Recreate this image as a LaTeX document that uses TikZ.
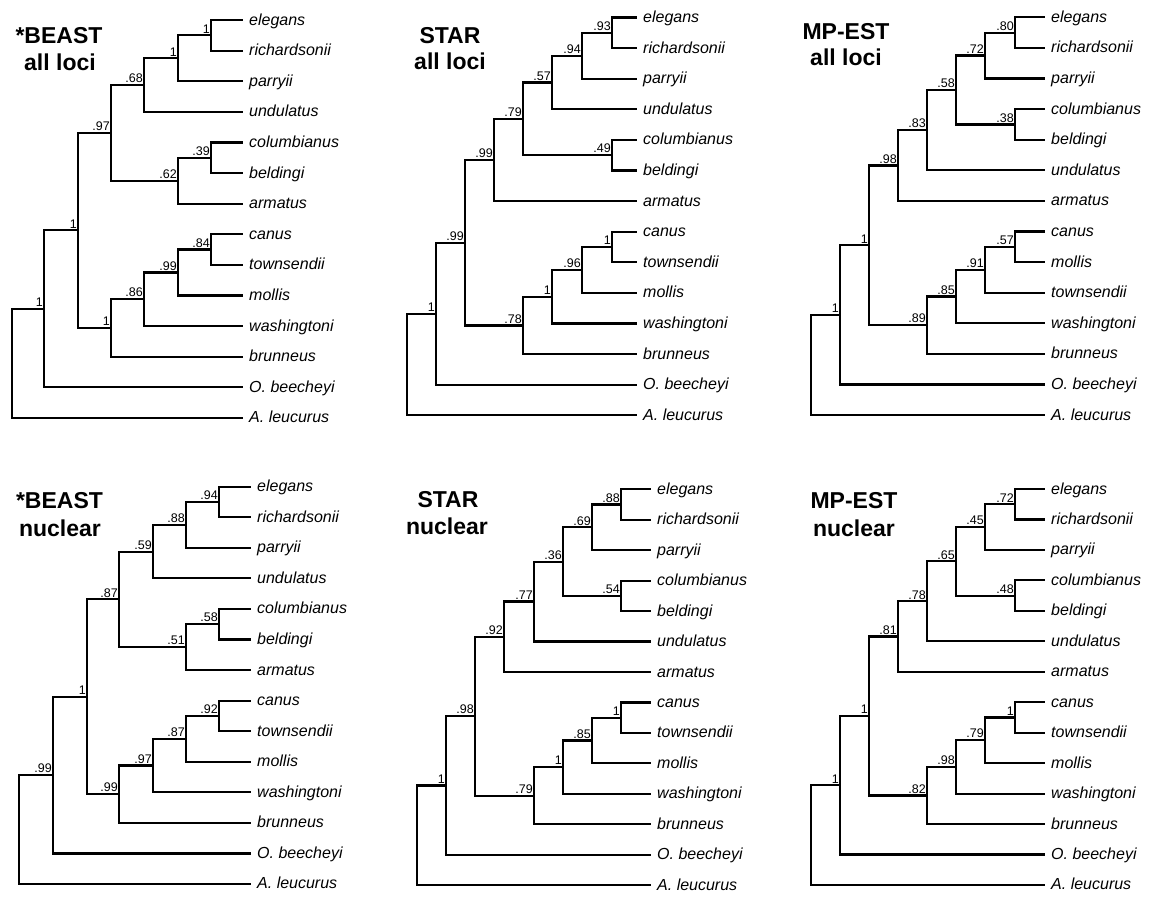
\documentclass[tikz,border=0pt]{standalone}
\usepackage{fontspec}
\setmainfont{Liberation Sans}
\tikzset{
  br/.style={line width=2.2pt, line join=miter},
  leaf/.style={anchor=base west, inner sep=0pt, xshift=6pt, yshift=-5pt, font=\fontsize{16}{18}\selectfont\itshape},
  sup/.style={anchor=south east, inner sep=0pt, xshift=-1pt, yshift=2pt, font=\fontsize{12.5}{13}\selectfont},
  ttl/.style={anchor=base, inner sep=0pt, font=\fontsize{23}{27}\selectfont\bfseries},
}
\newcommand\tleaf[4]{\coordinate (#1l#2) at (#3,#2); \node[leaf] (#1t#2) at (#1l#2) {#4};}
\newcommand\tnode[5]{\coordinate (#1#2) at (#3,#4); \node[sup] (#1s#2) at (#1#2) {#5};}
\newcommand\troot[4]{\coordinate (#1#2) at (#3,#4);}
\begin{document}
\begin{tikzpicture}[x=1pt,y=-1pt]
\useasboundingbox[fill=white] (0,0) rectangle (1152,897);

% ---------- Panel 1: *BEAST all loci ----------
\node[ttl] (t1a) at (59,43) {*BEAST};
\node[ttl] (t1b) at (60,70) {all loci};
\begin{scope}[yshift=-20pt, y=-30.6pt]
\foreach \i/\n in {0/elegans,1/richardsonii,2/parryii,3/undulatus,4/columbianus,5/beldingi,6/armatus,7/canus,8/townsendii,9/mollis,10/washingtoni,11/brunneus,12/O. beecheyi,13/A. leucurus}{\tleaf{a}{\i}{243}{\n}}
\tnode{a}{A}{211}{0.5}{1}
\tnode{a}{B}{178}{1.25}{1}
\tnode{a}{C}{144}{2.125}{.68}
\tnode{a}{D}{211}{4.5}{.39}
\tnode{a}{E}{178}{5.25}{.62}
\tnode{a}{F}{111}{3.6875}{.97}
\tnode{a}{G}{211}{7.5}{.84}
\tnode{a}{H}{178}{8.25}{.99}
\tnode{a}{I}{144}{9.125}{.86}
\tnode{a}{J}{111}{10.0625}{1}
\tnode{a}{K}{78}{6.875}{1}
\tnode{a}{L}{44}{9.4375}{1}
\troot{a}{R}{12}{11.21875}
\foreach \p/\c in {A/l0,A/l1,B/A,B/l2,C/B,C/l3,D/l4,D/l5,E/D,E/l6,F/C,F/E,G/l7,G/l8,H/G,H/l9,I/H,I/l10,J/I,J/l11,K/F,K/J,L/K,L/l12,R/L,R/l13}{\draw[br] (a\p) |- (a\c);}
\end{scope}

% ---------- Panel 2: STAR all loci ----------
\node[ttl] (t2a) at (450,43) {STAR};
\node[ttl] (t2b) at (450,69) {all loci};
\begin{scope}[yshift=-17.5pt, y=-30.6pt]
\foreach \i/\n in {0/elegans,1/richardsonii,2/parryii,3/undulatus,4/columbianus,5/beldingi,6/armatus,7/canus,8/townsendii,9/mollis,10/washingtoni,11/brunneus,12/O. beecheyi,13/A. leucurus}{\tleaf{b}{\i}{637}{\n}}
\tnode{b}{A}{612}{0.5}{.93}
\tnode{b}{B}{582}{1.25}{.94}
\tnode{b}{C}{552}{2.125}{.57}
\tnode{b}{D}{612}{4.5}{.49}
\tnode{b}{M}{523}{3.3125}{.79}
\tnode{b}{N}{494}{4.65625}{.99}
\tnode{b}{G}{612}{7.5}{1}
\tnode{b}{H}{582}{8.25}{.96}
\tnode{b}{I}{552}{9.125}{1}
\tnode{b}{J}{523}{10.0625}{.78}
\tnode{b}{K}{465}{7.359375}{.99}
\tnode{b}{L}{436}{9.6796875}{1}
\troot{b}{R}{407}{11.33984375}
\foreach \p/\c in {A/l0,A/l1,B/A,B/l2,C/B,C/l3,D/l4,D/l5,M/C,M/D,N/M,N/l6,G/l7,G/l8,H/G,H/l9,I/H,I/l10,J/I,J/l11,K/N,K/J,L/K,L/l12,R/L,R/l13}{\draw[br] (b\p) |- (b\c);}
\end{scope}

% ---------- Panel 3: MP-EST all loci ----------
\node[ttl] (t3a) at (846,39) {MP-EST};
\node[ttl] (t3b) at (846,65) {all loci};
\begin{scope}[yshift=-17.3pt, y=-30.6pt]
\foreach \i/\n in {0/elegans,1/richardsonii,2/parryii,3/columbianus,4/beldingi,5/undulatus,6/armatus,7/canus,8/mollis,9/townsendii,10/washingtoni,11/brunneus,12/O. beecheyi,13/A. leucurus}{\tleaf{c}{\i}{1045}{\n}}
\tnode{c}{A}{1015}{0.5}{.80}
\tnode{c}{B}{985}{1.25}{.72}
\tnode{c}{D}{1015}{3.5}{.38}
\tnode{c}{P}{956}{2.375}{.58}
\tnode{c}{Q}{927}{3.6875}{.83}
\tnode{c}{N}{898}{4.84375}{.98}
\tnode{c}{G}{1015}{7.5}{.57}
\tnode{c}{H}{985}{8.25}{.91}
\tnode{c}{I}{956}{9.125}{.85}
\tnode{c}{J}{927}{10.0625}{.89}
\tnode{c}{K}{869}{7.453125}{1}
\tnode{c}{L}{840}{9.7265625}{1}
\troot{c}{R}{811}{11.36328125}
\foreach \p/\c in {A/l0,A/l1,B/A,B/l2,D/l3,D/l4,P/B,P/D,Q/P,Q/l5,N/Q,N/l6,G/l7,G/l8,H/G,H/l9,I/H,I/l10,J/I,J/l11,K/N,K/J,L/K,L/l12,R/L,R/l13}{\draw[br] (c\p) |- (c\c);}
\end{scope}

% ---------- Panel 4: *BEAST nuclear ----------
\node[ttl] (t4a) at (59.5,508) {*BEAST};
\node[ttl] (t4b) at (60,536) {nuclear};
\begin{scope}[yshift=-486.7pt, y=-30.56pt]
\foreach \i/\n in {0/elegans,1/richardsonii,2/parryii,3/undulatus,4/columbianus,5/beldingi,6/armatus,7/canus,8/townsendii,9/mollis,10/washingtoni,11/brunneus,12/O. beecheyi,13/A. leucurus}{\tleaf{d}{\i}{251}{\n}}
\tnode{d}{A}{219}{0.5}{.94}
\tnode{d}{B}{186}{1.25}{.88}
\tnode{d}{C}{153}{2.125}{.59}
\tnode{d}{D}{219}{4.5}{.58}
\tnode{d}{E}{186}{5.25}{.51}
\tnode{d}{F}{119}{3.6875}{.87}
\tnode{d}{G}{219}{7.5}{.92}
\tnode{d}{H}{186}{8.25}{.87}
\tnode{d}{I}{153}{9.125}{.97}
\tnode{d}{J}{119}{10.0625}{.99}
\tnode{d}{K}{87}{6.875}{1}
\tnode{d}{L}{53}{9.4375}{.99}
\troot{d}{R}{19}{11.21875}
\foreach \p/\c in {A/l0,A/l1,B/A,B/l2,C/B,C/l3,D/l4,D/l5,E/D,E/l6,F/C,F/E,G/l7,G/l8,H/G,H/l9,I/H,I/l10,J/I,J/l11,K/F,K/J,L/K,L/l12,R/L,R/l13}{\draw[br] (d\p) |- (d\c);}
\end{scope}

% ---------- Panel 5: STAR nuclear ----------
\node[ttl] (t5a) at (448,507) {STAR};
\node[ttl] (t5b) at (447,534) {nuclear};
\begin{scope}[yshift=-489.3pt, y=-30.45pt]
\foreach \i/\n in {0/elegans,1/richardsonii,2/parryii,3/columbianus,4/beldingi,5/undulatus,6/armatus,7/canus,8/townsendii,9/mollis,10/washingtoni,11/brunneus,12/O. beecheyi,13/A. leucurus}{\tleaf{e}{\i}{651}{\n}}
\tnode{e}{A}{621}{0.5}{.88}
\tnode{e}{B}{592}{1.25}{.69}
\tnode{e}{D}{621}{3.5}{.54}
\tnode{e}{P}{563}{2.375}{.36}
\tnode{e}{Q}{534}{3.6875}{.77}
\tnode{e}{N}{504}{4.84375}{.92}
\tnode{e}{G}{621}{7.5}{1}
\tnode{e}{H}{592}{8.25}{.85}
\tnode{e}{I}{563}{9.125}{1}
\tnode{e}{J}{534}{10.0625}{.79}
\tnode{e}{K}{475}{7.453125}{.98}
\tnode{e}{L}{446}{9.7265625}{1}
\troot{e}{R}{417}{11.36328125}
\foreach \p/\c in {A/l0,A/l1,B/A,B/l2,D/l3,D/l4,P/B,P/D,Q/P,Q/l5,N/Q,N/l6,G/l7,G/l8,H/G,H/l9,I/H,I/l10,J/I,J/l11,K/N,K/J,L/K,L/l12,R/L,R/l13}{\draw[br] (e\p) |- (e\c);}
\end{scope}

% ---------- Panel 6: MP-EST nuclear ----------
\node[ttl] (t6a) at (854,508) {MP-EST};
\node[ttl] (t6b) at (854,536) {nuclear};
\begin{scope}[yshift=-489pt, y=-30.46pt]
\foreach \i/\n in {0/elegans,1/richardsonii,2/parryii,3/columbianus,4/beldingi,5/undulatus,6/armatus,7/canus,8/townsendii,9/mollis,10/washingtoni,11/brunneus,12/O. beecheyi,13/A. leucurus}{\tleaf{f}{\i}{1045}{\n}}
\tnode{f}{A}{1015}{0.5}{.72}
\tnode{f}{B}{985}{1.25}{.45}
\tnode{f}{D}{1015}{3.5}{.48}
\tnode{f}{P}{956}{2.375}{.65}
\tnode{f}{Q}{927}{3.6875}{.78}
\tnode{f}{N}{898}{4.84375}{.81}
\tnode{f}{G}{1015}{7.5}{1}
\tnode{f}{H}{985}{8.25}{.79}
\tnode{f}{I}{956}{9.125}{.98}
\tnode{f}{J}{927}{10.0625}{.82}
\tnode{f}{K}{869}{7.453125}{1}
\tnode{f}{L}{840}{9.7265625}{1}
\troot{f}{R}{811}{11.36328125}
\foreach \p/\c in {A/l0,A/l1,B/A,B/l2,D/l3,D/l4,P/B,P/D,Q/P,Q/l5,N/Q,N/l6,G/l7,G/l8,H/G,H/l9,I/H,I/l10,J/I,J/l11,K/N,K/J,L/K,L/l12,R/L,R/l13}{\draw[br] (f\p) |- (f\c);}
\end{scope}
\end{tikzpicture}
\end{document}
